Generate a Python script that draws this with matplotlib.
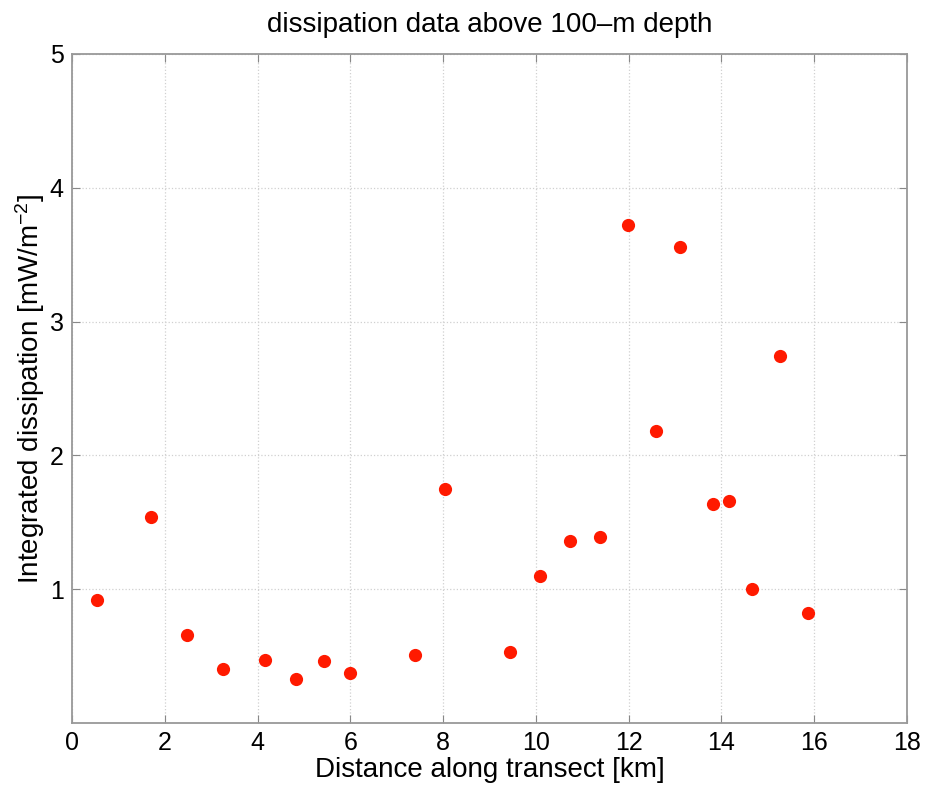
import matplotlib
matplotlib.use("Agg")
import matplotlib.pyplot as plt

# distance along transect [km] and integrated dissipation [mW/m^-2]
distance = [0.53, 1.70, 2.49, 3.26, 4.16, 4.84, 5.44, 5.99, 7.39, 8.05,
            9.45, 10.09, 10.74, 11.39, 11.98, 12.59, 13.10, 13.81, 14.17,
            14.65, 15.26, 15.86]
dissipation = [0.92, 1.54, 0.66, 0.40, 0.47, 0.33, 0.46, 0.37, 0.51, 1.75,
               0.53, 1.10, 1.36, 1.39, 3.72, 2.18, 3.56, 1.64, 1.66,
               1.00, 2.74, 0.82]
xticks = list(range(0, 19, 2))
yticks = [1, 2, 3, 4, 5]

plt.rcParams['font.family'] = ['Liberation Sans', 'DejaVu Sans']
plt.rcParams['mathtext.default'] = 'regular'

fig = plt.figure(figsize=(9.25, 7.88), dpi=100)
ax = fig.add_axes([0.0778, 0.0825, 0.9027, 0.849])

ax.plot(distance, dissipation, 'o', color='#ff1a00', markersize=9.5,
        markeredgewidth=0, zorder=3)

ax.set_xlim(0, 18)
ax.set_ylim(0, 5)
ax.set_xticks(xticks)
ax.set_yticks(yticks)
ax.grid(True, linestyle=':', color='#d0d0d0', linewidth=0.9)
ax.tick_params(direction='in', top=True, right=True, labelsize=18,
               length=6, color='#888888', pad=6)
for s in ax.spines.values():
    s.set_color('#999999')
    s.set_linewidth(1.3)

ax.set_title('dissipation data above 100\u2013m depth', fontsize=20, pad=16)
ax.set_xlabel('Distance along transect [km]', fontsize=20, labelpad=1)
ax.set_ylabel('Integrated dissipation [mW/m$^{-2}$]', fontsize=20, labelpad=2)

fig.savefig('out.png', dpi=100)
